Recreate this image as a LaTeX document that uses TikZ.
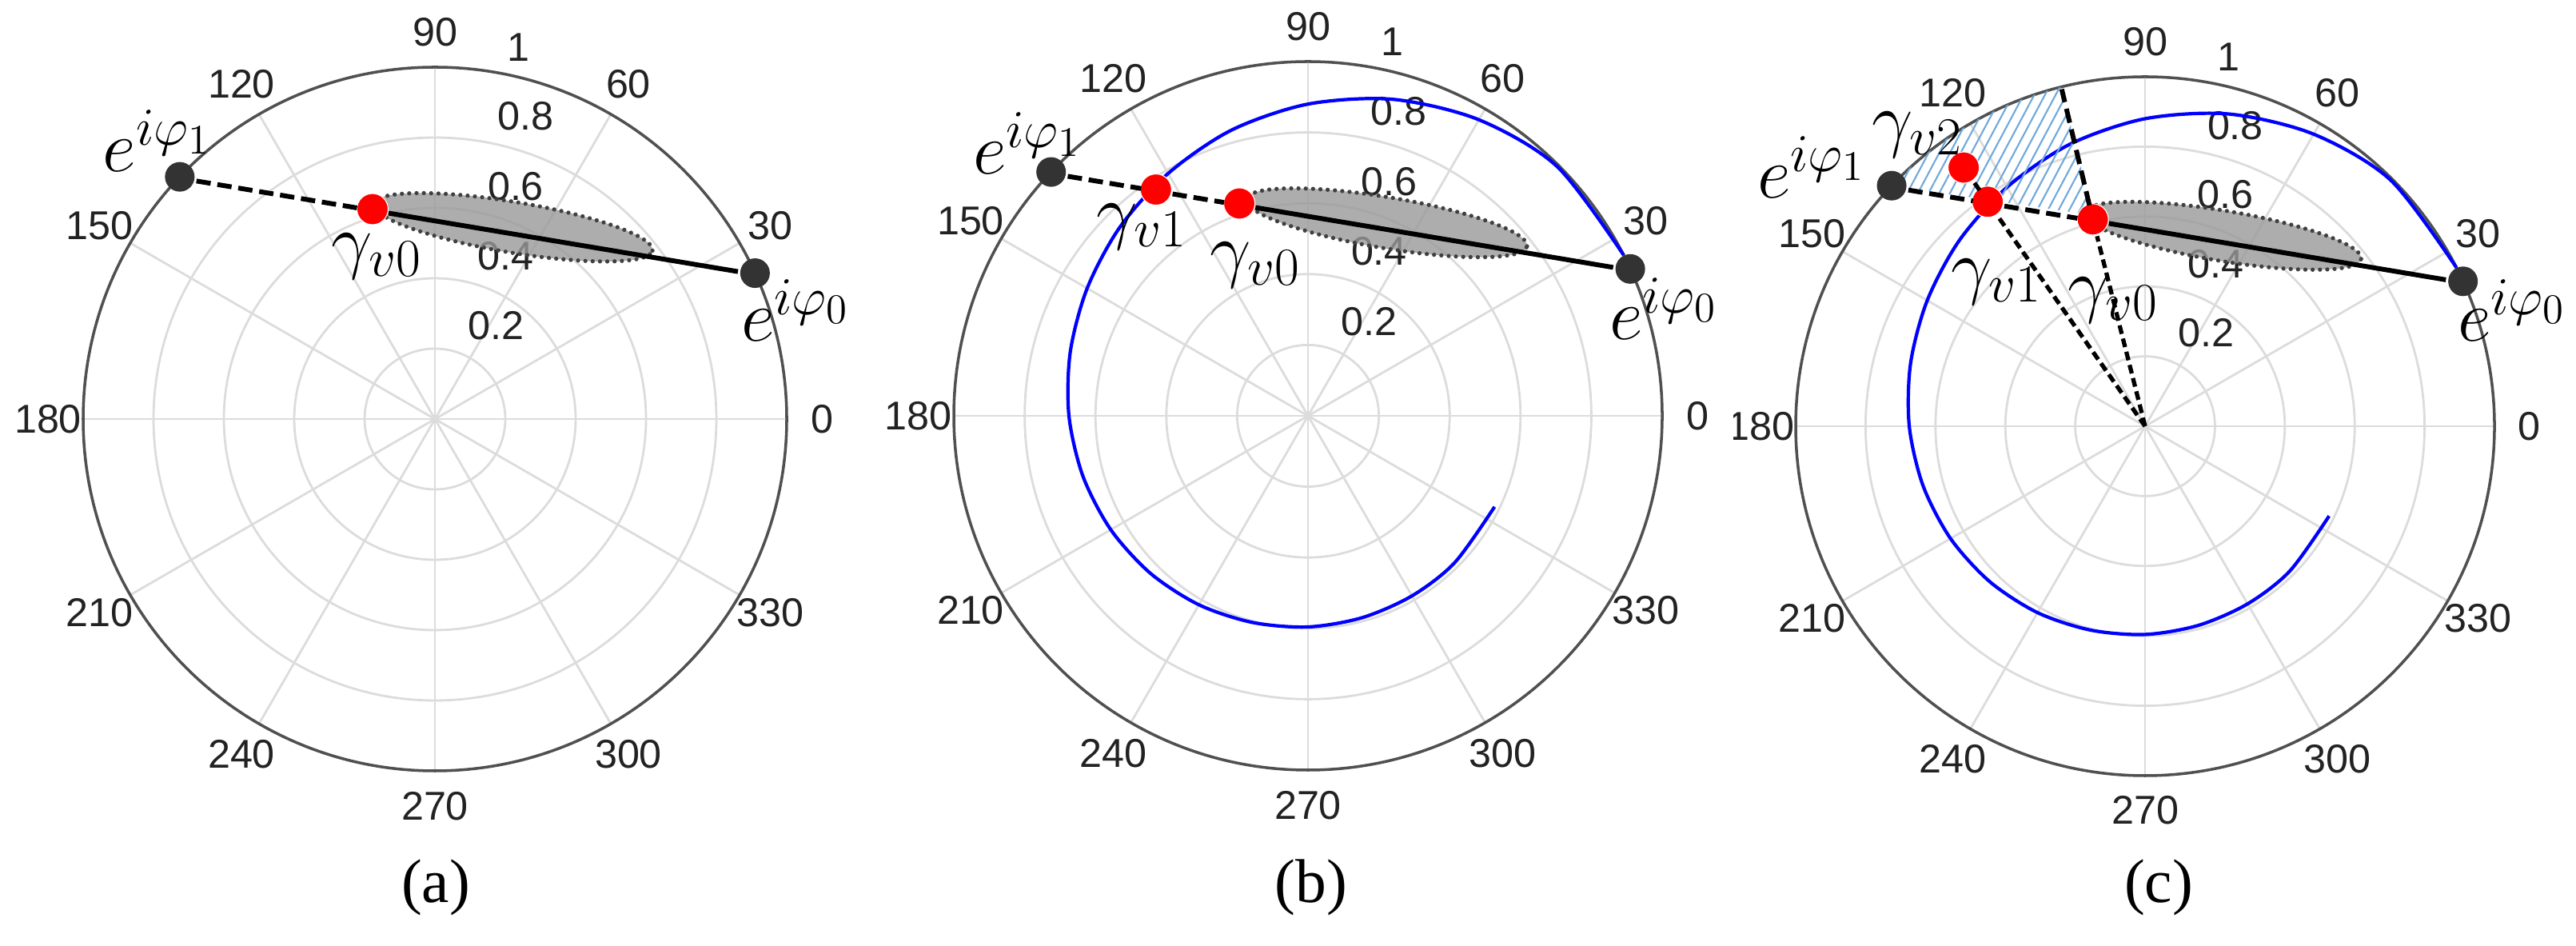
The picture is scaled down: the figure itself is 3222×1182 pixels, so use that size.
\documentclass[tikz,border=0pt]{standalone}
\usepackage{fix-cm}
\usepackage{fontspec}
\setmainfont{Liberation Serif}
\newfontfamily\labfont{Liberation Sans}
\DeclareMathSizes{26}{26}{19}{15}
\usetikzlibrary{calc,patterns.meta}
\definecolor{gridgray}{HTML}{DCDCDC}
\definecolor{rimgray}{HTML}{505050}
\definecolor{dotgray}{HTML}{333333}
\definecolor{hatchblue}{HTML}{6FA8DC}
\definecolor{lensgray}{HTML}{999999}
\definecolor{labblack}{HTML}{222222}
\tikzset{
  gridline/.style={draw=gridgray, line width=0.8pt},
  rim/.style={draw=rimgray, line width=1pt},
  anglab/.style={font=\fontsize{14.3}{17}\labfont, text=labblack, inner sep=0pt},
  radlab/.style={font=\fontsize{14.3}{17}\labfont, text=labblack, inner sep=0pt, anchor=south west, xshift=0.28cm, yshift=0.07cm},
  blackdot/.style={circle, fill=dotgray, minimum size=0.37cm, inner sep=0pt},
  reddot/.style={circle, fill=red, draw=white, line width=0.3pt, minimum size=0.39cm, inner sep=0pt},
  mathlab/.style={font=\fontsize{26}{30}\selectfont, inner sep=0pt},
  chorddash/.style={draw=black, line width=1.7pt, dash pattern=on 0.18cm off 0.085cm},
  chordsolid/.style={draw=black, line width=1.7pt},
  raydash/.style={draw=black, line width=1.5pt, dash pattern=on 0.11cm off 0.06cm},
  spiral/.style={draw=blue, line width=1.2pt},
  lens/.style={fill=lensgray, fill opacity=0.8, draw=black!75, draw opacity=1, line width=1.5pt, dash pattern=on 0pt off 2.6pt, line cap=round},
  hatch/.style={pattern={Lines[angle=62, distance=0.118cm, line width=0.6pt]}, pattern color=hatchblue},
  caption/.style={font=\fontsize{22}{26}\selectfont, inner sep=0pt},
}
\newcommand\polargrid{%
  \foreach \rr in {0.2,0.4,0.6,0.8} {\draw[gridline] (0,0) circle (\rr);}
  \foreach \aa in {0,30,...,330} {\draw[gridline] (0,0) -- (\aa:1);}
  \draw[rim] (0,0) circle (1);
  \foreach \rr in {0.2,0.4,0.6,0.8} {\pgfmathsetmacro\rp{\rr+0.01}\node[radlab] at (82:\rp) {\rr};}
  \node[radlab] at (82:1.01) {1};
}
\newcommand\anglabels[1]{%
  \foreach \aa in {#1} {\node[anglab] at (\aa:1.1) {\aa};}
}
\newcommand\lensshape{%
  \begin{scope}[shift={(0.222,0.545)}, rotate=-9.5]
    \path[lens] (0,0) ellipse (0.402 and 0.072);
  \end{scope}
}
\newcommand\spiralpts{(27:1.0) (45:0.995) (60:0.965) (75:0.925) (90:0.88) (105:0.835) (120:0.79) (135:0.752) (150:0.72) (165:0.695) (180:0.675) (195:0.658) (210:0.643) (225:0.629) (240:0.616) (255:0.604) (270:0.596) (285:0.59) (300:0.587) (315:0.586) (334:0.586)}
\begin{document}
\begin{tikzpicture}[x=0.01cm, y=0.01cm]
\useasboundingbox (0,0) rectangle (3222,1182);
% ================= panel (a)
\begin{scope}[shift={(544,658)}, scale=440]
  \polargrid
  \anglabels{0,30,...,330}
  \lensshape
  \node[blackdot] (a-e1) at (136.5:1) {};
  \node[blackdot] (a-e0) at (24.5:1) {};
  \node[reddot] (a-g0) at ($(136.5:1)!0.335!(24.5:1)$) {};
  \draw[chorddash] (a-e1) -- (a-g0);
  \draw[chordsolid] (a-g0) -- (a-e0);
\end{scope}
\node[mathlab] (a-le1) at (197,1006) {$e^{i\varphi_1}$};
\node[mathlab] (a-lg0) at (471,861) {$\gamma_{v0}$};
\node[mathlab] (a-le0) at (995,794) {$e^{i\varphi_0}$};
\node[caption] (a-cap) at (545,72) {(a)};
% ================= panel (b)
\begin{scope}[shift={(1636,662)}, scale=443]
  \polargrid
  \anglabels{0,30,...,330}
  \draw[spiral] plot[smooth] coordinates {\spiralpts};
  \lensshape
  \node[blackdot] (b-e1) at (136.5:1) {};
  \node[blackdot] (b-e0) at (24.5:1) {};
  \node[reddot] (b-g1) at ($(136.5:1)!0.181!(24.5:1)$) {};
  \node[reddot] (b-g0) at ($(136.5:1)!0.325!(24.5:1)$) {};
  \draw[chorddash] (b-e1) -- (b-g1);
  \draw[chorddash] (b-g1) -- (b-g0);
  \draw[chordsolid] (b-g0) -- (b-e0);
\end{scope}
\node[mathlab] (b-le1) at (1285,1003) {$e^{i\varphi_1}$};
\node[mathlab] (b-lg1) at (1428,898) {$\gamma_{v1}$};
\node[mathlab] (b-lg0) at (1570,850) {$\gamma_{v0}$};
\node[mathlab] (b-le0) at (2081,796) {$e^{i\varphi_0}$};
\node[caption] (b-cap) at (1640,72) {(b)};
% ================= panel (c)
\begin{scope}[shift={(2683,649)}, scale=437]
  \polargrid
  \anglabels{0,30,60,90,120,150,210,240,270,300,330}
  \draw[spiral] plot[smooth] coordinates {\spiralpts};
  \path[hatch] (136.5:1) arc[start angle=136.5, end angle=103.9, radius=1] -- (103.9:0.622) -- cycle;
  \lensshape
  \coordinate (c-o) at (0,0);
  \coordinate (c-top) at (103.9:1);
  \node[blackdot] (c-e1) at (136.5:1) {};
  \node[blackdot] (c-e0) at (24.5:1) {};
  \node[reddot] (c-g1) at ($(136.5:1)!0.168!(24.5:1)$) {};
  \node[reddot] (c-g0) at ($(136.5:1)!0.352!(24.5:1)$) {};
  \node[reddot] (c-g2) at ($(c-o)!1.16!(c-g1)$) {};
  \draw[raydash] (c-o) -- (c-g1);
  \draw[raydash] (c-g1) -- (c-g2);
  \draw[raydash] (c-o) -- (c-g0);
  \draw[chorddash] (c-g0) -- (c-top);
  \draw[chorddash] (c-e1) -- (c-g1);
  \draw[chorddash] (c-g1) -- (c-g0);
  \draw[chordsolid] (c-g0) -- (c-e0);
\end{scope}
\begin{scope}
  \clip (2168,0) rectangle (3222,1182);
  \node[anglab] (c-l180) at (2202,649) {180};
\end{scope}
\node[mathlab] (c-le1) at (2266,973) {$e^{i\varphi_1}$};
\node[mathlab] (c-lg2) at (2398,1013) {$\gamma_{v2}$};
\node[mathlab] (c-lg1) at (2497,829) {$\gamma_{v1}$};
\node[mathlab] (c-lg0) at (2643,806) {$\gamma_{v0}$};
\node[mathlab] (c-le0) at (3142,794) {$e^{i\varphi_0}$};
\node[caption] (c-cap) at (2700,72) {(c)};
\end{tikzpicture}
\end{document}
